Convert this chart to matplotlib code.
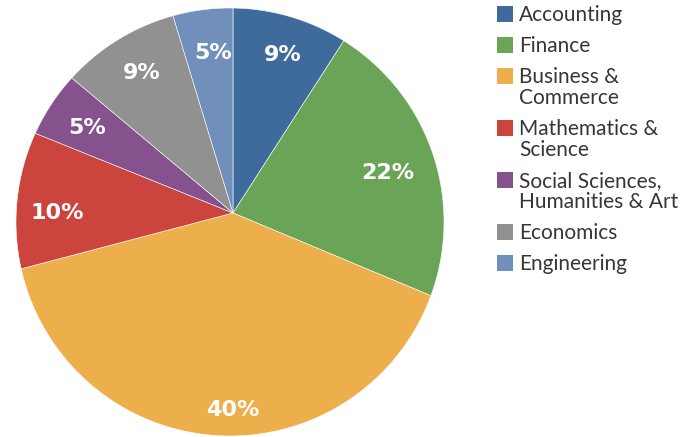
import numpy as np
import matplotlib
matplotlib.use("Agg")
import matplotlib.pyplot as plt
from matplotlib.patches import Rectangle, Polygon

# data (shares; labels show them rounded)
categories = ["Accounting", "Finance", "Business & Commerce", "Mathematics & Science",
              "Social Sciences, Humanities & Art", "Economics", "Engineering"]
legend_labels = ["Accounting", "Finance", "Business &\nCommerce", "Mathematics &\nScience",
                 "Social Sciences,\nHumanities & Art", "Economics", "Engineering"]
shares = [9.1, 22.2, 39.6, 10.2, 5.0, 9.2, 4.7]
colors = ["#3f6b9c", "#6aa557", "#edae4c", "#cb453e", "#85528e", "#919191", "#7090bb"]

# label placement (fraction of radius from the apex, small angle nudge in degrees)
label_dist = [0.785, 0.75, 0.91, 0.82, 0.795, 0.79, 0.765]
label_nudge = [-1.0, -2.1, 4.0, 2.9, 0.2, -1.0, -1.5]

W, H = 690, 437
R_PX = 214
fig = plt.figure(figsize=(W / 100, H / 100), dpi=100)

# pie axes: circle spans x 16..444, y 8..436 (pixels from top)
ax = fig.add_axes([16 / W, (H - 436) / H, 428 / W, 428 / H])
ax.set_xlim(-1, 1)
ax.set_ylim(-1, 1)
ax.set_aspect("equal")
ax.axis("off")

# the slices meet slightly above/right of the circle's centre in the original
apex = np.array([3 / R_PX, 9 / R_PX])


def ray_hit(theta):
    u = np.array([np.cos(theta), np.sin(theta)])
    b = apex @ u
    t = -b + np.sqrt(b * b - (apex @ apex - 1))
    return apex + t * u


total = sum(shares)
cum = 0
for val, col, d, nudge in zip(shares, colors, label_dist, label_nudge):
    a0 = np.deg2rad(90 - cum / total * 360)
    a1 = np.deg2rad(90 - (cum + val) / total * 360)
    pts = [apex] + [ray_hit(t) for t in np.linspace(a0, a1, 120)]
    ax.add_patch(Polygon(pts, closed=True, facecolor=col, edgecolor="white", linewidth=0.4))
    mid = np.deg2rad(90 - (cum + val / 2) / total * 360 + nudge)
    cum += val
    ax.text(apex[0] + d * np.cos(mid), apex[1] + d * np.sin(mid) - 0.01, f"{round(val)}%",
            ha="center", va="center", color="white", fontsize=16, fontweight="bold",
            family="DejaVu Sans")

# legend drawn by hand
y = 14
for lab, col in zip(legend_labels, colors):
    fig.add_artist(Rectangle((497 / W, (H - y - 8) / H), 16 / W, 16 / H,
                             transform=fig.transFigure, facecolor=col, edgecolor="none"))
    lines = lab.split("\n")
    for i, line in enumerate(lines):
        fig.text(519 / W, (H - (y + 1 + i * 21)) / H, line, ha="left", va="center",
                 fontsize=15, color="#363636", family="Lato")
    y += 21 * (len(lines) - 1) + 31

fig.savefig("out.png", dpi=100)
